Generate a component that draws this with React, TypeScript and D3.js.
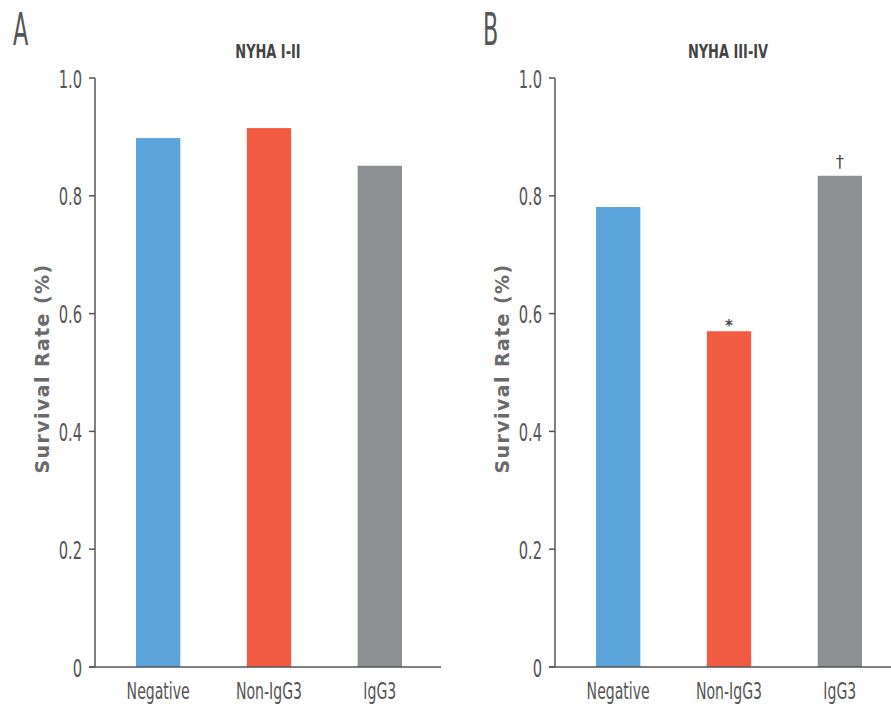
import * as d3 from "d3";

// Survival rate by antibody group, NYHA class panels
const groups = ["Negative", "Non-IgG3", "IgG3"];
const nyhaLowValues = [0.898, 0.915, 0.851];
const nyhaHighValues = [0.781, 0.57, 0.834];
const nyhaHighMarks = ["", "*", "†"];
const yTicks = [0, 0.2, 0.4, 0.6, 0.8, 1.0];
const barColors = ["#5ba4dc", "#f15b42", "#8d8f92"];

const W = 891, H = 707;
const top = 78, bottom = 667;
const font = "'DejaVu Sans Condensed', 'DejaVu Sans', sans-serif";

// narrow text, squeezed horizontally like the original typeface
function Narrow(props: {
  x: number; y: number; size: number; sx: number; anchor?: string;
  weight?: string; fill?: string; children: any;
}) {
  const { x, y, size, sx, anchor, weight, fill, children } = props;
  return (
    <text transform={`translate(${x},${y}) scale(${sx},1)`} fontSize={size}
      fontFamily={font} fontWeight={weight || "normal"} fill={fill || "#555"}
      textAnchor={anchor || "start"}>{children}</text>
  );
}

function Panel(props: {
  axisX: number; letter: string; letterX: number; title: string; titleX: number;
  values: number[]; marks?: string[];
}) {
  const { axisX, letter, letterX, title, titleX, values, marks } = props;
  const y = d3.scaleLinear().domain([0, 1]).range([bottom, top]);
  const x = d3.scaleBand().domain(groups).range([axisX, axisX + 348])
    .paddingInner(0.6).paddingOuter(0.37);

  return (
    <g>
      <Narrow x={letterX} y={45} size={45} sx={0.55} fill="#555">{letter}</Narrow>
      <Narrow x={titleX} y={58} size={20} sx={0.72} anchor="middle" weight="bold"
        fill="#444">{title}</Narrow>
      <text transform={`translate(${axisX - 46},${(top + bottom) / 2 - 4}) rotate(-90)`}
        fontSize={19} fontWeight="bold" fill="#6a6a6a" textAnchor="middle"
        letterSpacing={1.4} fontFamily="'DejaVu Sans', sans-serif">Survival Rate (%)</text>

      {groups.map((g, i) => (
        <rect key={g} x={x(g)} y={y(values[i])} width={x.bandwidth()}
          height={y(0) - y(values[i])} fill={barColors[i]} />
      ))}
      {marks && groups.map((g, i) => marks[i] ? (
        <text key={"m" + g} x={(x(g) as number) + x.bandwidth() / 2}
          y={y(values[i]) - (marks[i] === "*" ? 0 : 8)} fontSize={marks[i] === "*" ? 16 : 18}
          fontWeight={marks[i] === "*" ? "bold" : "normal"} fill="#444" textAnchor="middle"
          fontFamily={font}>{marks[i]}</text>
      ) : null)}

      {/* y axis */}
      <line x1={axisX} x2={axisX} y1={top} y2={bottom} stroke="#555" strokeWidth={1.5} />
      {yTicks.map(t => (
        <g key={t}>
          <line x1={axisX - 6} x2={axisX} y1={y(t)} y2={y(t)} stroke="#555" strokeWidth={1.5} />
          <Narrow x={axisX - 13} y={y(t) + 9.5} size={24} sx={0.68} anchor="end">
            {t === 0 ? "0" : t.toFixed(1)}
          </Narrow>
        </g>
      ))}

      {/* x axis */}
      <line x1={axisX - 6} x2={Math.min(axisX + 346, W)} y1={bottom} y2={bottom}
        stroke="#555" strokeWidth={1.5} />
      {groups.map(g => (
        <Narrow key={"l" + g} x={(x(g) as number) + x.bandwidth() / 2} y={bottom + 32}
          size={23} sx={0.68} anchor="middle">{g}</Narrow>
      ))}
    </g>
  );
}

export default function App() {
  return (
    <svg width={W} height={H} style={{ position: "absolute", left: 0, top: 0, background: "#fff" }}>
      <Panel axisX={95} letter="A" letterX={13} title="NYHA I-II" titleX={268}
        values={nyhaLowValues} />
      <Panel axisX={555} letter="B" letterX={483} title="NYHA III-IV" titleX={728}
        values={nyhaHighValues} marks={nyhaHighMarks} />
    </svg>
  );
}
